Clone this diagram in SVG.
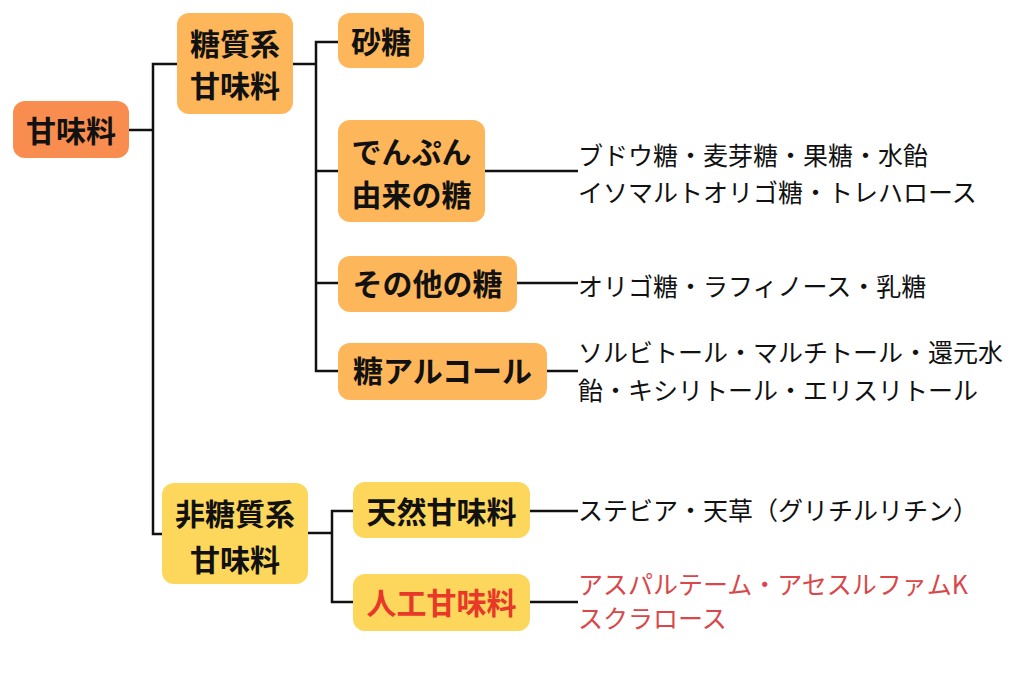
<svg xmlns="http://www.w3.org/2000/svg" width="1024" height="683" viewBox="0 0 1024 683">
<style>
.bg{fill:#ffffff}
.root{fill:#F98D4F}
.sug{fill:#FDB75A}
.non{fill:#FDD75C}
.lbl{font-family:"Noto Sans CJK JP","Noto Sans CJK SC",sans-serif;font-weight:700;font-size:30px;fill:#111111;text-anchor:middle}
.red{fill:#E8382A}
.lst{font-family:"Noto Sans CJK JP","Noto Sans CJK SC",sans-serif;font-weight:400;font-size:25px;fill:#111111}
.lstr{fill:#D9474A}
.con{fill:none;stroke:#111111;stroke-width:2.5}
</style>
<rect class="bg" x="0" y="0" width="1024" height="683"/>
<g id="connectors">
<path class="con" d="M129,130 H153"/>
<path class="con" d="M177,64 H153 V534 H162"/>
<path class="con" d="M292,64 H316"/>
<path class="con" d="M338,42 H316 V371 H338"/>
<path class="con" d="M316,171 H338"/>
<path class="con" d="M316,283 H338"/>
<path class="con" d="M485,171 H578"/>
<path class="con" d="M517,283 H578"/>
<path class="con" d="M547,371 H578"/>
<path class="con" d="M308,533 H332"/>
<path class="con" d="M353,511 H332 V602 H353"/>
<path class="con" d="M530,511 H578"/>
<path class="con" d="M530,602 H578"/>
</g>
<g id="n-root">
<rect class="root" x="13" y="101" width="116" height="57" rx="12"/>
<text class="lbl" x="71" y="142">甘味料</text>
</g>
<g id="n-sugar">
<rect class="sug" x="177" y="13" width="116" height="101" rx="12"/>
<text class="lbl" x="235" y="55">糖質系</text>
<text class="lbl" x="235" y="97">甘味料</text>
</g>
<g id="n-sato">
<rect class="sug" x="338" y="13" width="86" height="55" rx="12"/>
<text class="lbl" x="381" y="53">砂糖</text>
</g>
<g id="n-denpun">
<rect class="sug" x="338" y="120" width="147" height="102" rx="12"/>
<text class="lbl" x="411.5" y="163">でんぷん</text>
<text class="lbl" x="411.5" y="206">由来の糖</text>
</g>
<g id="n-sonota">
<rect class="sug" x="338" y="256" width="179" height="56" rx="12"/>
<text class="lbl" x="427.5" y="295">その他の糖</text>
</g>
<g id="n-alcohol">
<rect class="sug" x="338" y="343" width="209" height="57" rx="12"/>
<text class="lbl" x="442.5" y="382">糖アルコール</text>
</g>
<g id="n-nonsugar">
<rect class="non" x="162" y="483" width="146" height="101" rx="12"/>
<text class="lbl" x="235" y="525">非糖質系</text>
<text class="lbl" x="235" y="571">甘味料</text>
</g>
<g id="n-natural">
<rect class="non" x="353" y="482" width="177" height="56" rx="12"/>
<text class="lbl" x="441.5" y="523">天然甘味料</text>
</g>
<g id="n-artificial">
<rect class="non" x="353" y="574" width="177" height="57" rx="12"/>
<text class="lbl red" x="441.5" y="614">人工甘味料</text>
</g>
<g id="t-denpun">
<text class="lst" x="578" y="165">ブドウ糖・麦芽糖・果糖・水飴</text>
<text class="lst" x="578" y="202">イソマルトオリゴ糖・トレハロース</text>
</g>
<g id="t-sonota">
<text class="lst" x="578" y="296">オリゴ糖・ラフィノース・乳糖</text>
</g>
<g id="t-alcohol">
<text class="lst" x="578" y="362">ソルビトール・マルチトール・還元水</text>
<text class="lst" x="578" y="400">飴・キシリトール・エリスリトール</text>
</g>
<g id="t-natural">
<text class="lst" x="578" y="520">ステビア・天草（グリチルリチン）</text>
</g>
<g id="t-artificial">
<text class="lst lstr" x="578" y="594">アスパルテーム・アセスルファムK</text>
<text class="lst lstr" x="578" y="628">スクラロース</text>
</g>
</svg>
